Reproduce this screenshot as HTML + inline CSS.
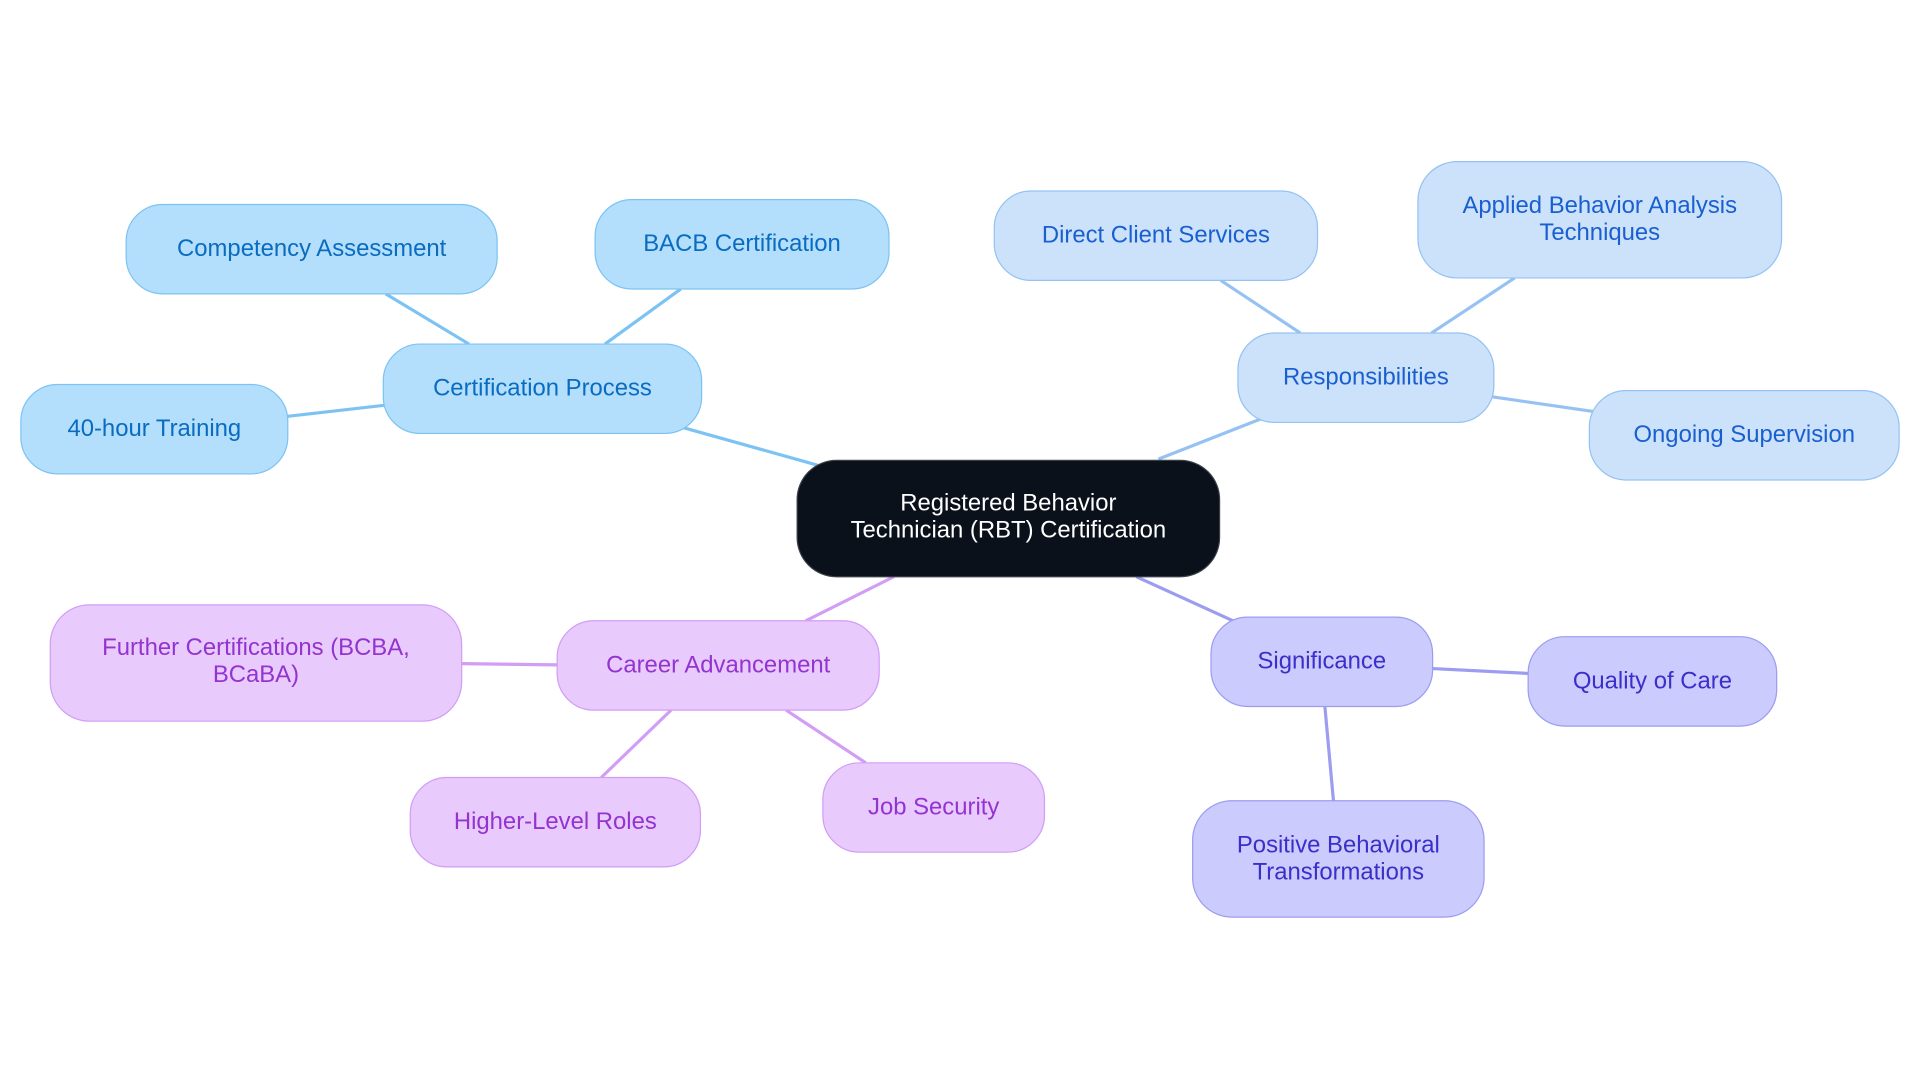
<!DOCTYPE html>
<html><head><meta charset="utf-8"><style>
html,body{margin:0;padding:0;background:#fff;width:1920px;height:1083px;overflow:hidden}
svg text{font-family:"Liberation Sans",sans-serif;font-size:19.5px;text-anchor:middle;dominant-baseline:central}
</style></head><body>
<svg width="1920" height="1083" viewBox="0 0 1568 884.5" xmlns="http://www.w3.org/2000/svg">
<g stroke-width="2.6" fill="none">
<line x1="668" y1="380" x2="557" y2="349" stroke="#7cc3f3"/>
<line x1="383" y1="281" x2="315" y2="240" stroke="#7cc3f3"/>
<line x1="494" y1="281" x2="556" y2="236" stroke="#7cc3f3"/>
<line x1="314" y1="331" x2="235" y2="340" stroke="#7cc3f3"/>
<line x1="946" y1="375" x2="1030" y2="342" stroke="#95c2f2"/>
<line x1="1062" y1="272" x2="997" y2="229" stroke="#95c2f2"/>
<line x1="1169" y1="272" x2="1237" y2="227" stroke="#95c2f2"/>
<line x1="1218" y1="324" x2="1301" y2="336" stroke="#95c2f2"/>
<line x1="928" y1="471" x2="1007" y2="507" stroke="#9c9cf0"/>
<line x1="1170" y1="546" x2="1248" y2="550" stroke="#9c9cf0"/>
<line x1="1082" y1="577" x2="1089" y2="654" stroke="#9c9cf0"/>
<line x1="730" y1="471" x2="658" y2="507" stroke="#d29df5"/>
<line x1="455" y1="543" x2="377" y2="542" stroke="#d29df5"/>
<line x1="548" y1="580" x2="491" y2="635" stroke="#d29df5"/>
<line x1="642" y1="580" x2="707" y2="623" stroke="#d29df5"/>
</g>
<g stroke-width="1">
<rect x="651" y="376" width="345" height="95" rx="32" fill="#0b111b" stroke="#3a3f47"/>
<g fill="#b3dffc" stroke="#7cc3f3">
<rect x="313" y="281" width="260" height="73" rx="30"/>
<rect x="103" y="167" width="303" height="73" rx="30"/>
<rect x="486" y="163" width="240" height="73" rx="30"/>
<rect x="17" y="314" width="218" height="73" rx="30"/>
</g>
<g fill="#cce2fb" stroke="#95c2f2">
<rect x="1011" y="272" width="209" height="73" rx="30"/>
<rect x="812" y="156" width="264" height="73" rx="30"/>
<rect x="1158" y="132" width="297" height="95" rx="32"/>
<rect x="1298" y="319" width="253" height="73" rx="30"/>
</g>
<g fill="#cbcbfd" stroke="#9c9cf0">
<rect x="989" y="504" width="181" height="73" rx="30"/>
<rect x="1248" y="520" width="203" height="73" rx="30"/>
<rect x="974" y="654" width="238" height="95" rx="32"/>
</g>
<g fill="#e8cafd" stroke="#d29df5">
<rect x="455" y="507" width="263" height="73" rx="30"/>
<rect x="41" y="494" width="336" height="95" rx="32"/>
<rect x="335" y="635" width="237" height="73" rx="30"/>
<rect x="672" y="623" width="181" height="73" rx="30"/>
</g>
</g>
<text x="823.5" y="411" fill="#fff">Registered Behavior</text>
<text x="823.5" y="433" fill="#fff">Technician (RBT) Certification</text>
<g fill="#0a6cc0">
<text x="443" y="317">Certification Process</text>
<text x="254.5" y="203">Competency Assessment</text>
<text x="606" y="199">BACB Certification</text>
<text x="126" y="350">40-hour Training</text>
</g>
<g fill="#1a5fd0">
<text x="1115.5" y="308">Responsibilities</text>
<text x="944" y="192">Direct Client Services</text>
<text x="1306.5" y="168">Applied Behavior Analysis</text>
<text x="1306.5" y="190">Techniques</text>
<text x="1424.5" y="355">Ongoing Supervision</text>
</g>
<g fill="#3a2fc8">
<text x="1079.5" y="540">Significance</text>
<text x="1349.5" y="556">Quality of Care</text>
<text x="1093" y="690">Positive Behavioral</text>
<text x="1093" y="712">Transformations</text>
</g>
<g fill="#9333d0">
<text x="586.5" y="543">Career Advancement</text>
<text x="209" y="529">Further Certifications (BCBA,</text>
<text x="209" y="551">BCaBA)</text>
<text x="453.5" y="671">Higher-Level Roles</text>
<text x="762.5" y="659">Job Security</text>
</g>
</svg>
</body></html>
